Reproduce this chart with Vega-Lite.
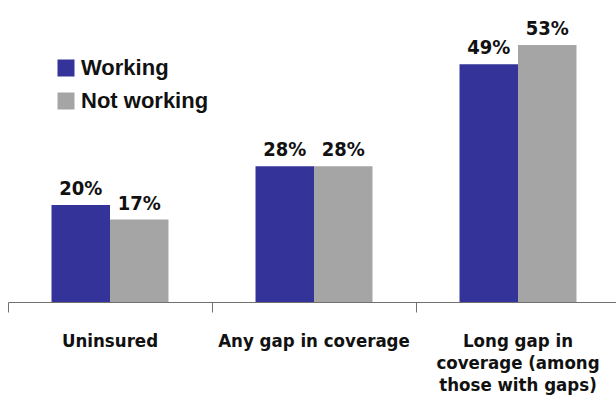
{
  "$schema": "https://vega.github.io/schema/vega-lite/v6.json",
  "width": 612,
  "height": 291,
  "padding": {"left": 8, "top": 11, "right": 0, "bottom": 109},
  "autosize": {"type": "none"},
  "background": "white",
  "config": {"view": {"stroke": null}, "font": "Liberation Sans"},
  "data": {
    "values": [
      {"cat": "Uninsured", "group": "Working", "value": 0.20},
      {"cat": "Uninsured", "group": "Not working", "value": 0.17},
      {"cat": "Any gap in coverage", "group": "Working", "value": 0.28},
      {"cat": "Any gap in coverage", "group": "Not working", "value": 0.28},
      {"cat": "Long gap in|coverage (among|those with gaps)", "group": "Working", "value": 0.49},
      {"cat": "Long gap in|coverage (among|those with gaps)", "group": "Not working", "value": 0.53}
    ]
  },
  "encoding": {
    "x": {
      "field": "cat", "type": "nominal", "sort": null,
      "scale": {"paddingInner": 0, "paddingOuter": 0},
      "axis": {
        "title": null, "labelAngle": 0, "bandPosition": 0,
        "domainColor": "#707070", "tickColor": "#707070", "tickSize": 10,
        "labelFont": "DejaVu Sans Condensed", "labelFontSize": 18.5, "labelFontWeight": "bold",
        "labelColor": "#111111", "labelPadding": 19, "labelLineHeight": 22,
        "labelExpr": "split(datum.label, '|')", "labelLimit": 300
      }
    },
    "xOffset": {
      "field": "group", "type": "nominal", "sort": ["Working", "Not working"],
      "scale": {"paddingOuter": 0.744, "paddingInner": 0}
    },
    "y": {"field": "value", "type": "quantitative", "scale": {"domain": [0, 0.6]}, "axis": null}
  },
  "layer": [
    {
      "mark": {"type": "bar"},
      "encoding": {
        "color": {
          "field": "group", "type": "nominal", "sort": ["Working", "Not working"],
          "scale": {"domain": ["Working", "Not working"], "range": ["#333399", "#A5A5A5"]},
          "legend": {
            "title": null, "orient": "none", "legendX": 47, "legendY": 46,
            "symbolType": "square", "symbolSize": 289, "symbolStrokeWidth": 0,
            "labelFont": "Liberation Sans", "labelFontSize": 22, "labelFontWeight": "bold",
            "labelColor": "#111111", "rowPadding": 11, "labelOffset": 4
          }
        }
      }
    },
    {
      "mark": {"type": "text", "baseline": "bottom", "dy": -6, "font": "DejaVu Sans Condensed", "fontSize": 20, "fontWeight": "bold", "color": "#111111"},
      "encoding": {"text": {"field": "value", "type": "quantitative", "format": ".0%"}, "detail": {"field": "group"}}
    }
  ]
}
